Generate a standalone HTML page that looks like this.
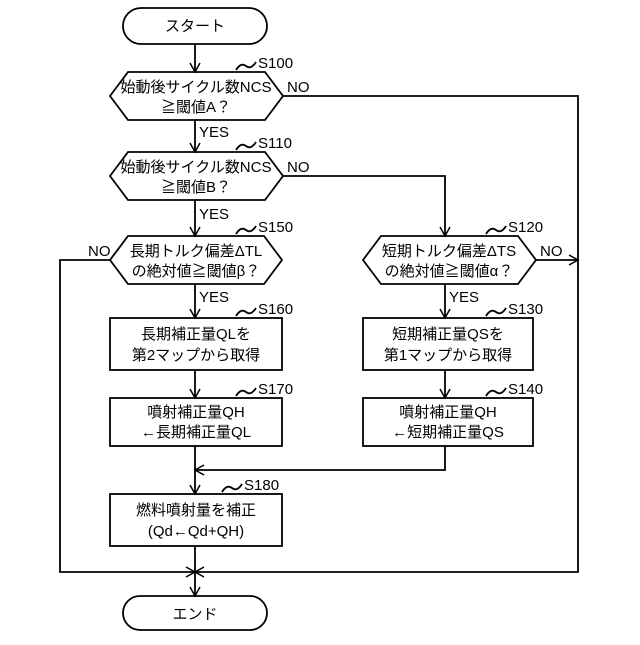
<!DOCTYPE html>
<html><head><meta charset="utf-8"><style>
body{margin:0;background:#fff}
text{font-family:"Liberation Sans","Noto Sans CJK JP",sans-serif;fill:#000}
</style></head><body>
<svg width="640" height="640" viewBox="0 0 640 640" xmlns="http://www.w3.org/2000/svg">
<defs><marker id="a" markerWidth="12" markerHeight="12" refX="10" refY="6" orient="auto" markerUnits="userSpaceOnUse"><path d="M1,1 L10,6 L1,11" fill="none" stroke="#000" stroke-width="1.5"/></marker></defs>
<g stroke="#000" stroke-width="1.8" fill="none">
<rect x="123" y="8" width="144" height="36" rx="18"/>
<rect x="123" y="596" width="144" height="34" rx="17"/>
<polygon points="110,96 128,72 265,72 283,96 265,120 128,120"/>
<polygon points="110,176 128,152 265,152 283,176 265,200 128,200"/>
<polygon points="110,260 128,236 264,236 282,260 264,284 128,284"/>
<polygon points="363,260 381,236 518,236 536,260 518,284 381,284"/>
<rect x="110" y="318" width="172" height="52"/>
<rect x="110" y="398" width="172" height="48"/>
<rect x="363" y="318" width="170" height="52"/>
<rect x="363" y="398" width="170" height="48"/>
<rect x="110" y="494" width="172" height="52"/>
<g marker-end="url(#a)">
<line x1="195" y1="44" x2="195" y2="72"/>
<line x1="195" y1="120" x2="195" y2="152"/>
<line x1="195" y1="200" x2="195" y2="236"/>
<line x1="195" y1="284" x2="195" y2="318"/>
<line x1="195" y1="370" x2="195" y2="398"/>
<line x1="445" y1="284" x2="445" y2="318"/>
<line x1="445" y1="370" x2="445" y2="398"/>
<polyline points="283,176 445,176 445,236"/>
<line x1="536" y1="260" x2="578" y2="260"/>
<polyline points="445,446 445,470 195,470"/>
<line x1="195" y1="446" x2="195" y2="494"/>
<polyline points="110,260 60,260 60,572 195,572"/>
<polyline points="283,96 578,96 578,572 195,572"/>
<line x1="195" y1="546" x2="195" y2="596"/>
</g>
<path d="M236,70 q5,-8 10,-4 t10,-4"/>
<path d="M236,150 q5,-8 10,-4 t10,-4"/>
<path d="M236,234 q5,-8 10,-4 t10,-4"/>
<path d="M486,234 q5,-8 10,-4 t10,-4"/>
<path d="M236,316 q5,-8 10,-4 t10,-4"/>
<path d="M486,316 q5,-8 10,-4 t10,-4"/>
<path d="M236,396 q5,-8 10,-4 t10,-4"/>
<path d="M486,396 q5,-8 10,-4 t10,-4"/>
<path d="M222,492 q5,-8 10,-4 t10,-4"/>
</g>
<g font-size="15" text-anchor="middle">
<text x="195" y="31">スタート</text>
<text x="195" y="619">エンド</text>
<text x="196" y="92">始動後サイクル数NCS</text><text x="196" y="112">≧閾値A？</text>
<text x="196" y="172">始動後サイクル数NCS</text><text x="196" y="192">≧閾値B？</text>
<text x="196" y="256">長期トルク偏差ΔTL</text><text x="196" y="276">の絶対値≧閾値β？</text>
<text x="449" y="256">短期トルク偏差ΔTS</text><text x="449" y="276">の絶対値≧閾値α？</text>
<text x="196" y="339">長期補正量QLを</text><text x="196" y="360">第2マップから取得</text>
<text x="448" y="339">短期補正量QSを</text><text x="448" y="360">第1マップから取得</text>
<text x="196" y="417">噴射補正量QH</text><text x="196" y="437">←長期補正量QL</text>
<text x="448" y="417">噴射補正量QH</text><text x="448" y="437">←短期補正量QS</text>
<text x="196" y="515">燃料噴射量を補正</text><text x="196" y="536">(Qd←Qd+QH)</text>
</g>
<g font-size="15">
<text x="258" y="68">S100</text><text x="258" y="148">S110</text>
<text x="258" y="232">S150</text><text x="508" y="232">S120</text>
<text x="258" y="314">S160</text><text x="508" y="314">S130</text>
<text x="258" y="394">S170</text><text x="508" y="394">S140</text>
<text x="244" y="490">S180</text>
<text x="287" y="92">NO</text><text x="287" y="172">NO</text>
<text x="88" y="256">NO</text><text x="540" y="256">NO</text>
<text x="199" y="137">YES</text><text x="199" y="219">YES</text>
<text x="199" y="302">YES</text><text x="449" y="302">YES</text>
</g>
</svg>
</body></html>
